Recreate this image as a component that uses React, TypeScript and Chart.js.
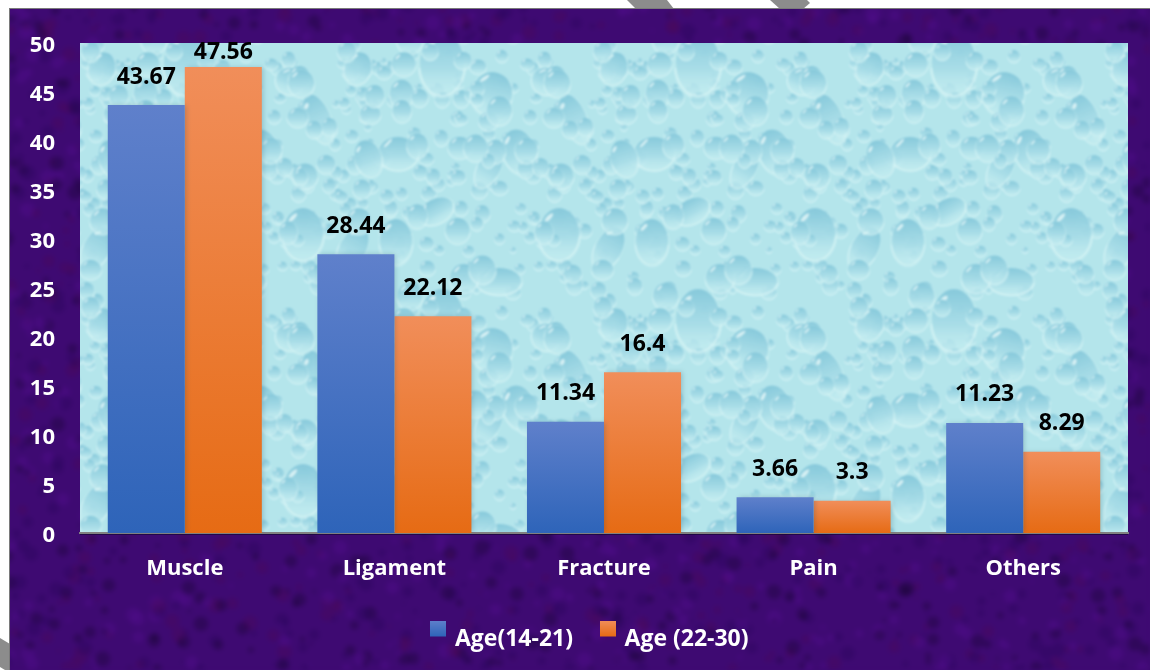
import React, { useEffect, useRef } from "react";
import { Chart, registerables } from "chart.js";

Chart.register(...registerables);

const categories = ["Muscle", "Ligament", "Fracture", "Pain", "Others"];
const ageYoung = [43.67, 28.44, 11.34, 3.66, 11.23];
const ageOlder = [47.56, 22.12, 16.4, 3.3, 8.29];
const seriesNames = ["Age(14-21)", "Age (22-30)"];
const blueStops = ["#5f80cb", "#2e64b9"];
const orangeStops = ["#f18e5a", "#e66b14"];
const yTicks = [0, 5, 10, 15, 20, 25, 30, 35, 40, 45, 50];

const FONT = "'Open Sans', 'Noto Sans', sans-serif";

// Small deterministic generator so the decorative textures are stable between runs.
function makeRng(seed: number) {
  let s = seed >>> 0;
  return () => {
    s = (Math.imul(s, 1664525) + 1013904223) >>> 0;
    return s / 4294967296;
  };
}

function makeCanvas(w: number, h: number) {
  const c = document.createElement("canvas");
  c.width = w;
  c.height = h;
  return c;
}

function drawDrop(g: CanvasRenderingContext2D, x: number, y: number, rx: number, ry: number, rot: number) {
  g.save();
  g.translate(x, y);
  g.rotate(rot);
  // soft pale halo that separates the drop from its neighbours
  g.beginPath();
  g.ellipse(0, ry * 0.1, rx * 1.12, ry * 1.12, 0, 0, Math.PI * 2);
  g.fillStyle = "rgba(208,241,244,0.45)";
  g.fill();
  const body = g.createLinearGradient(0, -ry, 0, ry);
  body.addColorStop(0, "rgba(120,192,214,0.95)");
  body.addColorStop(0.6, "rgba(162,217,230,0.85)");
  body.addColorStop(1, "rgba(198,238,242,0.4)");
  g.beginPath();
  g.ellipse(0, 0, rx, ry, 0, 0, Math.PI * 2);
  g.fillStyle = body;
  g.fill();
  // faint pale rim, strongest along the lower edge
  g.beginPath();
  g.ellipse(0, ry * 0.06, rx * 1.04, ry * 1.04, 0, 0.1, Math.PI - 0.1);
  g.strokeStyle = "rgba(226,249,249,0.7)";
  g.lineWidth = Math.max(1, rx * 0.08);
  g.stroke();
  // glint on the upper left
  g.beginPath();
  g.ellipse(-rx * 0.5, -ry * 0.62, Math.max(1, rx * 0.28), Math.max(0.7, ry * 0.08), -0.8, 0, Math.PI * 2);
  g.fillStyle = "rgba(244,253,253,0.8)";
  g.fill();
  g.restore();
}

// Seamless tile of water drops, repeated across the plot area.
function makeWaterTile() {
  const size = 256;
  const c = makeCanvas(size, size);
  const g = c.getContext("2d")!;
  g.fillStyle = "#b4e5ec";
  g.fillRect(0, 0, size, size);
  const rng = makeRng(77);
  const large = [
    [58, 20, 22, 30, 0],
    [108, 50, 20, 21, 0.2],
    [162, 38, 14, 13, 0.4],
    [190, 75, 12, 25, -0.4],
    [135, 108, 16, 22, -0.3],
    [14, 110, 20, 16, 0],
    [105, 125, 11, 20, 0.5],
    [175, 190, 20, 25, 0],
    [225, 205, 13, 22, 0.5],
    [52, 168, 18, 12, -0.5],
    [12, 198, 16, 22, 0],
    [240, 115, 13, 18, -0.3],
    [115, 238, 22, 13, 0],
    [230, 25, 13, 16, 0.3],
    [80, 235, 14, 14, 0],
  ];
  // each drop is repeated only across the edges it actually touches
  const place = (x: number, y: number, rx: number, ry: number, rot: number) => {
    const m = Math.max(rx, ry) * 1.2;
    for (const dx of [-size, 0, size]) {
      for (const dy of [-size, 0, size]) {
        const px = x + dx;
        const py = y + dy;
        if (px + m < 0 || px - m > size || py + m < 0 || py - m > size) continue;
        drawDrop(g, px, py, rx, ry, rot);
      }
    }
  };
  for (let i = 0; i < 150; i++) {
    const r = 3 + rng() * 5;
    place(rng() * size, rng() * size, r, r * (0.85 + rng() * 0.3), 0);
  }
  for (const [x, y, rx, ry, rot] of large) place(x, y, rx, ry, rot);
  for (let i = 0; i < 40; i++) {
    const r = 6 + rng() * 7;
    place(rng() * size, rng() * size, r, r * (0.9 + rng() * 0.3), 0);
  }
  const soft = makeCanvas(size, size);
  const sg = soft.getContext("2d")!;
  // one blur pass over a 3x3 copy keeps the tile edges continuous
  const wide = makeCanvas(size + 8, size + 8);
  const wg = wide.getContext("2d")!;
  for (const dx of [-size, 0, size]) {
    for (const dy of [-size, 0, size]) wg.drawImage(c, dx + 4, dy + 4);
  }
  sg.filter = "blur(1px)";
  sg.drawImage(wide, -4, -4);
  sg.filter = "none";
  sg.fillStyle = "rgba(178,228,236,0.2)";
  sg.fillRect(0, 0, size, size);
  return soft;
}

// Mottled violet cloth for the panel behind the plot.
function makePurpleTexture(w: number, h: number) {
  const raw = makeCanvas(w, h);
  const g = raw.getContext("2d")!;
  g.fillStyle = "#3e0a72";
  g.fillRect(0, 0, w, h);
  const rng = makeRng(2024);
  const tints = ["rgba(26,6,50,0.36)", "rgba(80,14,140,0.42)", "rgba(78,10,84,0.32)", "rgba(44,6,92,0.42)"];
  for (let i = 0; i < 3200; i++) {
    g.fillStyle = tints[Math.floor(rng() * tints.length)];
    g.beginPath();
    g.arc(rng() * w, rng() * h, 1.5 + rng() * 6, 0, Math.PI * 2);
    g.fill();
  }
  const c = makeCanvas(w, h);
  const cg = c.getContext("2d")!;
  cg.fillStyle = "#3e0a72";
  cg.fillRect(0, 0, w, h);
  cg.filter = "blur(2.5px)";
  cg.drawImage(raw, 0, 0);
  cg.filter = "none";
  return c;
}

// Legend swatch: square in the upper part of a taller transparent image, so it sits
// above the centre line of the legend text.
function makeSwatch(stops: string[]) {
  const c = makeCanvas(16, 38);
  const g = c.getContext("2d")!;
  const grad = g.createLinearGradient(0, 0, 0, 16);
  grad.addColorStop(0, stops[0]);
  grad.addColorStop(1, stops[1]);
  g.fillStyle = grad;
  g.fillRect(0, 0, 16, 16);
  return c;
}

function barGradient(stops: string[]) {
  return (ctx: any) => {
    const chart = ctx.chart;
    if (!chart.chartArea || !ctx.parsed) return stops[0];
    const y = chart.scales.y;
    const grad = chart.ctx.createLinearGradient(0, y.getPixelForValue(ctx.parsed.y), 0, y.getPixelForValue(0));
    grad.addColorStop(0, stops[0]);
    grad.addColorStop(1, stops[1]);
    return grad;
  };
}

export default function App() {
  const ref = useRef<HTMLCanvasElement>(null);

  useEffect(() => {
    const purple = makePurpleTexture(1150, 670);
    const water = makeWaterTile();
    const swatches = [makeSwatch(blueStops), makeSwatch(orangeStops)];

    const backdrop = {
      id: "backdrop",
      // the legend is centred a little right of the canvas middle
      afterLayout(chart: any) {
        chart.legend.left = 54;
      },
      beforeDraw(chart: any) {
        const { ctx, width, height, chartArea: a } = chart;
        ctx.save();
        ctx.fillStyle = "#ffffff";
        ctx.fillRect(0, 0, width, height);
        // slivers of grey ribbon showing around the panel
        ctx.fillStyle = "#8c8c8c";
        const slivers = [
          [[627, 0], [667, 0], [674, 9], [636, 9]],
          [[770, 0], [807, 0], [810, 3], [803, 9], [780, 9]],
          [[0, 638], [10, 644], [10, 670], [5, 670], [0, 667]],
        ];
        for (const poly of slivers) {
          ctx.beginPath();
          poly.forEach(([x, y], i) => (i ? ctx.lineTo(x, y) : ctx.moveTo(x, y)));
          ctx.closePath();
          ctx.fill();
        }
        ctx.drawImage(purple, 10, 9, width - 10, height - 9, 10, 9, width - 10, height - 9);
        ctx.fillStyle = "#7a7a7a";
        ctx.fillRect(9, 8, width - 9, 1);
        ctx.fillRect(9, 8, 1, height - 8);
        // water texture filling the plot area
        ctx.save();
        ctx.translate(a.left + 48, a.top);
        ctx.fillStyle = ctx.createPattern(water, "repeat");
        ctx.fillRect(-48, 0, a.right - a.left, a.bottom - a.top);
        ctx.restore();
        ctx.fillStyle = "rgba(10,5,40,0.55)";
        ctx.fillRect(a.left, a.bottom, a.right - a.left, 2);
        ctx.restore();
      },
      beforeDatasetsDraw(chart: any) {
        const c = chart.ctx;
        c.save();
        c.shadowColor = "rgba(20,60,80,0.22)";
        c.shadowBlur = 5;
        c.shadowOffsetX = 2;
        c.shadowOffsetY = 0;
      },
      afterDatasetsDraw(chart: any) {
        const c = chart.ctx;
        c.restore();
        // value labels above each bar, kept inside the top of the plot
        c.save();
        c.font = `bold 23px ${FONT}`;
        c.fillStyle = "#000000";
        c.textAlign = "center";
        c.textBaseline = "middle";
        chart.data.datasets.forEach((ds: any, di: number) => {
          chart.getDatasetMeta(di).data.forEach((bar: any, i: number) => {
            const y = Math.max(bar.y - 28, chart.chartArea.top + 9);
            c.fillText(String(ds.data[i]), bar.x, y);
          });
        });
        c.restore();
      },
    };

    const chart = new Chart(ref.current!, {
      type: "bar",
      data: {
        labels: categories,
        datasets: [
          { label: seriesNames[0], data: ageYoung, backgroundColor: barGradient(blueStops), barPercentage: 1, categoryPercentage: 0.735 },
          { label: seriesNames[1], data: ageOlder, backgroundColor: barGradient(orangeStops), barPercentage: 1, categoryPercentage: 0.735 },
        ],
      },
      options: {
        animation: false,
        responsive: false,
        layout: { padding: { left: 0, right: 22, top: 43, bottom: 9 } },
        plugins: {
          tooltip: { enabled: false },
          title: { display: false },
          legend: {
            display: true,
            position: "bottom",
            labels: {
              color: "#ffffff",
              font: { family: FONT, size: 23, weight: "bold" },
              usePointStyle: true,
              pointStyleWidth: 10,
              padding: 30,
              generateLabels: () =>
                seriesNames.map((text, i) => ({
                  text,
                  pointStyle: swatches[i],
                  fontColor: "#ffffff",
                  datasetIndex: i,
                  hidden: false,
                  lineWidth: 0,
                })),
            },
          },
        },
        scales: {
          x: {
            grid: { display: false, drawTicks: false },
            border: { display: true, color: "#808080", width: 2 },
            ticks: {
              color: "#ffffff",
              font: { family: FONT, size: 22, weight: "bold" },
              padding: 23,
              autoSkip: false,
              maxRotation: 0,
            },
            afterFit(scale: any) {
              scale.height = 670 - 533 - scale.chart.legend.height - 9;
            },
          },
          y: {
            min: 0,
            max: 50,
            grid: { display: false, drawTicks: false },
            border: { display: false },
            afterBuildTicks(scale: any) {
              scale.ticks = yTicks.map((value) => ({ value }));
            },
            ticks: {
              color: "#ffffff",
              font: { family: FONT, size: 22, weight: "bold" },
              padding: 25,
            },
            afterFit(scale: any) {
              scale.width = 80;
            },
            // tick labels sit a few pixels under their value position
            afterUpdate(scale: any) {
              const base = Object.getPrototypeOf(scale).getLabelItems;
              scale.getLabelItems = (area: any) =>
                base.call(scale, area).map((item: any) => ({
                  ...item,
                  options: {
                    ...item.options,
                    translation: [item.options.translation[0], item.options.translation[1] + 3],
                  },
                }));
            },
          },
        },
      },
      plugins: [backdrop],
    } as any);

    return () => chart.destroy();
  }, []);

  return (
    <canvas
      ref={ref}
      width={1150}
      height={670}
      style={{ position: "fixed", left: 0, top: 0, width: 1150, height: 670, display: "block" }}
    />
  );
}
